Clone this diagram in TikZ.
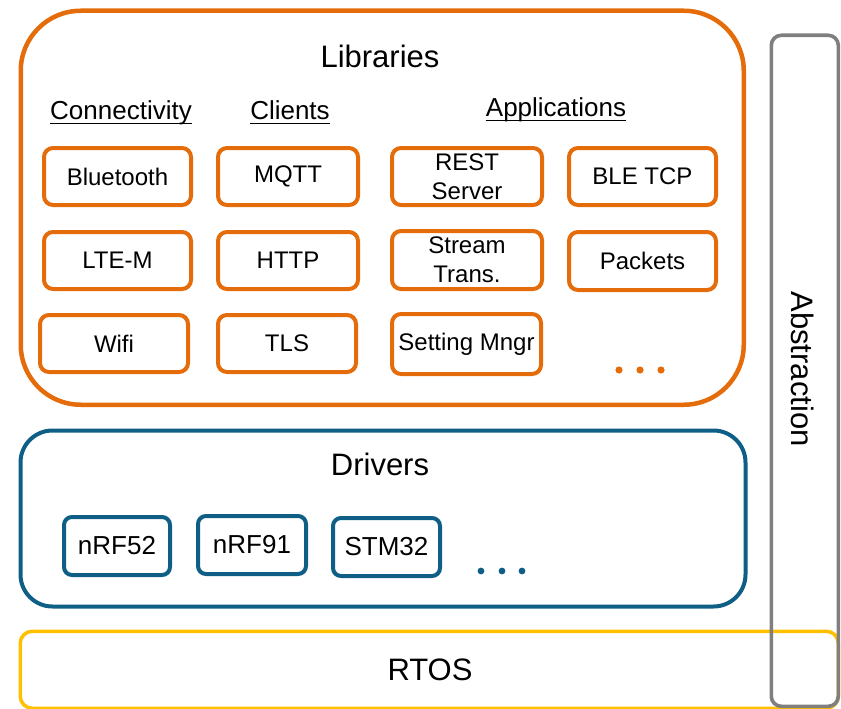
\documentclass[tikz,border=0pt]{standalone}
\usepackage{fontspec}
\setmainfont{Liberation Sans}
\definecolor{lorange}{HTML}{E46C0A}
\definecolor{dblue}{HTML}{0F5E85}
\definecolor{ryellow}{HTML}{FFC000}
\definecolor{agray}{HTML}{7F7F7F}
\tikzset{
  libbox/.style={draw=lorange, line width=4pt, rounded corners=9pt, inner sep=0pt,
    align=center, font=\fontsize{24}{29}\selectfont, minimum height=57pt},
  drvbox/.style={draw=dblue, line width=4pt, rounded corners=8pt, inner sep=0pt,
    align=center, font=\fontsize{26}{30}\selectfont, minimum height=58pt},
  bigtitle/.style={inner sep=0pt, anchor=base, font=\fontsize{31}{36}\selectfont},
  subhead/.style={inner sep=0pt, anchor=base, font=\fontsize{26}{30}\selectfont},
  uline/.style={line width=1.6pt, black},
  container/.style={inner sep=0pt, anchor=north west}
}
\begin{document}
\begin{tikzpicture}[x=1pt,y=-1pt]
\useasboundingbox (0,0) rectangle (841,709);
% RTOS
\node[container, draw=ryellow, line width=3.5pt, rounded corners=12pt,
  minimum width=818pt, minimum height=77pt] (rtos) at (18.5,629.5) {};
\node[bigtitle] (rtost) at (430,680) {RTOS};
% Abstraction
\node[container, draw=agray, line width=3.6pt, rounded corners=10pt,
  minimum width=67pt, minimum height=671pt] (abs) at (769.5,33.5) {};
\node[inner sep=0pt, rotate=-90, font=\fontsize{31}{36}\selectfont] (abst) at (803,369) {Abstraction};
% Libraries
\node[container, draw=lorange, line width=4.5pt, rounded corners=60pt,
  minimum width=723pt, minimum height=394pt] (libs) at (18.5,8.5) {};
\node[bigtitle] (libt) at (380,68) {Libraries};
\node[subhead] (conn) at (121,119) {Connectivity};
\node[subhead] (cli) at (290,119) {Clients};
\node[subhead] (app) at (556,116) {Applications};
\foreach \n in {conn,cli,app}
  \draw[uline] ([yshift=-4.5pt]\n.base west) -- ([yshift=-4.5pt]\n.base east);
% library boxes
\node[libbox, minimum width=147pt] (bt) at (117.5,176.5) {Bluetooth};
\node[libbox, minimum width=140pt] (mqtt) at (288,176.5) {MQTT};
\node[libbox, minimum width=150pt] (rest) at (467,176.5) {REST\\Server};
\node[libbox, minimum width=147pt] (ble) at (642.5,176.5) {BLE TCP};
\node[libbox, minimum width=147pt] (lte) at (117.5,260.5) {LTE-M};
\node[libbox, minimum width=140pt] (http) at (288,260.5) {HTTP};
\node[libbox, minimum width=150pt, minimum height=58pt] (stream) at (467,260) {Stream\\Trans.};
\node[libbox, minimum width=147pt, minimum height=58pt] (pkt) at (642.5,261) {Packets};
\node[libbox, minimum width=148pt] (wifi) at (114,343.5) {Wifi};
\node[libbox, minimum width=138pt] (tls) at (287,343.5) {TLS};
\node[libbox, minimum width=149pt, minimum height=60pt] (set) at (466.5,344) {Setting Mngr};
\foreach \x in {619,640,661} \fill[lorange] (\x,370) circle (3.6pt);
% Drivers
\node[container, draw=dblue, line width=4pt, rounded corners=32pt,
  minimum width=725pt, minimum height=176pt] (drv) at (18.5,428.5) {};
\node[bigtitle] (drvt) at (380,475) {Drivers};
\node[drvbox, minimum width=106pt] (n52) at (117,546) {nRF52};
\node[drvbox, minimum width=108pt] (n91) at (252,545) {nRF91};
\node[drvbox, minimum width=107pt] (stm) at (386.5,547) {STM32};
\foreach \x in {481,502,522} \fill[dblue] (\x,571) circle (3.4pt);
\end{tikzpicture}
\end{document}
